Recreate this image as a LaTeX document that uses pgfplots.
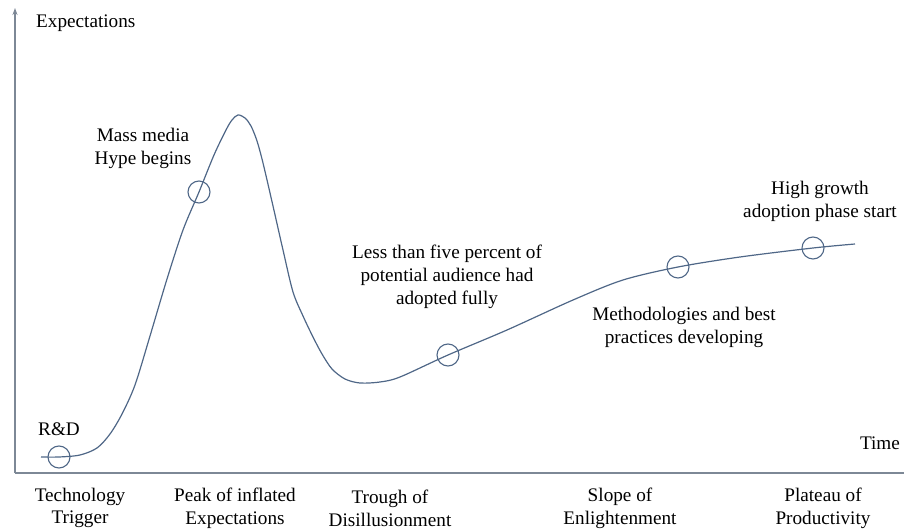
\documentclass[border=0pt]{standalone}
\usepackage{fontspec}
\setmainfont{Liberation Serif}
\usepackage{pgfplots}
\pgfplotsset{compat=1.18}
\usetikzlibrary{arrows.meta}

\definecolor{axiscol}{HTML}{7D8896}
\definecolor{curvecol}{HTML}{4F6787}
\newcommand\lf{\fontsize{19.2bp}{22.8bp}\selectfont}

% data in pixel-like units: x from the y axis, y from the x axis
\pgfplotstableread{
x y
26 16
44 16
65 18
82 25
95 39
107 59
120 88
135 137
152 194
168 243
184 281
199 318
211 343
217 353
223 358
230 355
236 347
242 332
248 310
258 267
268 223
278 181
288 157
298 136
307 119
317 104
330 94
345 90
365 91
385 96
433 118
492 143
558 173
608 193
663 206
725 216
798 225
840 229
}\hype

\pgfplotstableread{
x y
44 16
184 281
433 118
663 206
798 225
}\marks

\begin{document}
\begin{tikzpicture}
\begin{axis}[
    scale only axis,
    width=889bp, height=465bp,
    xmin=0, xmax=889, ymin=0, ymax=465,
    axis x line*=bottom, axis y line*=left,
    x axis line style={draw=axiscol, line width=2bp},
    y axis line style={draw=axiscol, line width=1.1bp, -{Stealth[length=7bp,width=5bp]}},
    ytick=\empty,
    xtick={65,220,375,605,808},
    xticklabels={Technology\\Trigger, Peak of inflated\\Expectations, Trough of\\Disillusionment, Slope of\\Enlightenment, Plateau of\\Productivity},
    major tick length=0,
    xticklabel style={font=\lf, align=center, anchor=center, yshift=-35bp},
    clip=false,
]
\addplot[curvecol, line width=1.2bp, smooth, tension=0.5] table {\hype};
\addplot[only marks, mark=o, mark size=11bp, mark options={draw=curvecol, line width=1.1bp}] table {\marks};

\node[font=\lf, anchor=west, inner sep=0] at (axis cs:21,450) {Expectations};
\node[font=\lf, inner sep=0] at (axis cs:865,30) {Time};
\node[font=\lf, inner sep=0] at (axis cs:44,43.5) {R\&D};
\node[font=\lf, inner sep=0, align=center] at (axis cs:128,324.5) {Mass media\\Hype begins};
\node[font=\lf, inner sep=0, align=center] at (axis cs:432,196) {Less than five percent of\\potential audience had\\adopted fully};
\node[font=\lf, inner sep=0, align=center] at (axis cs:669,145.5) {Methodologies and best\\practices developing};
\node[font=\lf, inner sep=0, align=center] at (axis cs:805,272) {High growth\\adoption phase start};

\coordinate (bl) at (axis cs:-15,-57);
\coordinate (tr) at (axis cs:889,473);
\end{axis}
\pgfresetboundingbox
\path (bl) rectangle (tr);
\end{tikzpicture}
\end{document}
